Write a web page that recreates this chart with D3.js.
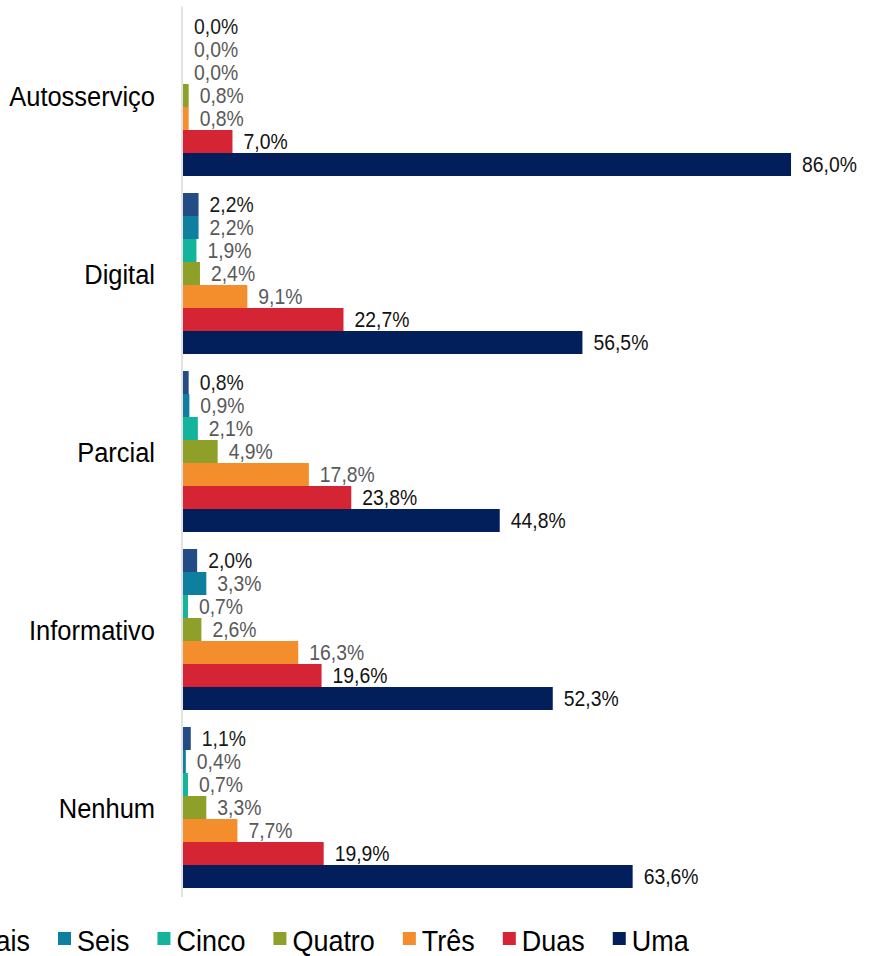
<!DOCTYPE html>
<html>
<head>
<meta charset="utf-8">
<script src="https://cdn.jsdelivr.net/npm/d3@7"></script>
<style>
  html, body { margin: 0; padding: 0; background: #fff; }
  svg { display: block; }
  text { font-family: "Liberation Sans", Arial, sans-serif; }
</style>
</head>
<body>
<svg id="chart" width="876" height="956"></svg>
<script>
// Categories (vertical groups)
const categories = ["Autosserviço", "Digital", "Parcial", "Informativo", "Nenhum"];

// Series, drawn top to bottom inside each group
const seriesNames = ["Sete ou mais", "Seis", "Cinco", "Quatro", "Três", "Duas", "Uma"];
const seriesColors = ["#234C86", "#0F7F9F", "#14B39B", "#8E9F2A", "#F48E2D", "#D52535", "#021F5B"];
const labelColors = ["#1a1a1a", "#595959", "#595959", "#595959", "#595959", "#111111", "#111111"];

// Percentages per series, one value per category
const seteOuMais = [0.0, 2.2, 0.8, 2.0, 1.1];
const seis       = [0.0, 2.2, 0.9, 3.3, 0.4];
const cinco      = [0.0, 1.9, 2.1, 0.7, 0.7];
const quatro     = [0.8, 2.4, 4.9, 2.6, 3.3];
const tres       = [0.8, 9.1, 17.8, 16.3, 7.7];
const duas       = [7.0, 22.7, 23.8, 19.6, 19.9];
const uma        = [86.0, 56.5, 44.8, 52.3, 63.6];

const seriesValues = [seteOuMais, seis, cinco, quatro, tres, duas, uma];

const fmt = v => v.toFixed(1).replace(".", ",") + "%";

const svg = d3.select("#chart");

const x = d3.scaleLinear().domain([0, 100]).range([183, 890]);

const y0 = d3.scaleBand()
  .domain(categories)
  .range([6.5, 896.5])
  .paddingInner(0.0955)
  .paddingOuter(0.0478);

const y1 = d3.scaleBand()
  .domain(seriesNames)
  .range([0, y0.bandwidth()]);

// condensed text helper: horizontal squeeze around the anchor point
function condensed(sel, sx) {
  return sel.attr("transform", function () {
    const tx = +this.getAttribute("data-x"), ty = +this.getAttribute("data-y");
    return `translate(${tx},${ty}) scale(${sx},1)`;
  });
}

// bars + value labels
const groups = svg.append("g").selectAll("g")
  .data(categories)
  .join("g")
  .attr("transform", d => `translate(0,${y0(d)})`);

groups.each(function (cat, ci) {
  const g = d3.select(this);
  const rows = seriesNames.map((s, si) => ({ s, si, v: seriesValues[si][ci] }));
  g.selectAll("rect")
    .data(rows)
    .join("rect")
    .attr("x", x(0))
    .attr("y", d => y1(d.s))
    .attr("width", d => x(d.v) - x(0))
    .attr("height", y1.bandwidth())
    .attr("fill", d => seriesColors[d.si]);

  g.selectAll("text")
    .data(rows)
    .join("text")
    .attr("data-x", d => x(d.v) + 11)
    .attr("data-y", d => y1(d.s) + y1.bandwidth() / 2)
    .attr("dy", "0.35em")
    .attr("font-size", 22)
    .attr("fill", d => labelColors[d.si])
    .text(d => fmt(d.v))
    .call(condensed, 0.88);
});

// category axis line
svg.append("line")
  .attr("x1", 182).attr("x2", 182)
  .attr("y1", 6.5).attr("y2", 897)
  .attr("stroke", "#d9d9d9")
  .attr("stroke-width", 1.5);

// category labels
svg.append("g").selectAll("text")
  .data(categories)
  .join("text")
  .attr("data-x", 155)
  .attr("data-y", d => y0(d) + y0.bandwidth() / 2 + 1)
  .attr("dy", "0.35em")
  .attr("text-anchor", "end")
  .attr("font-size", 28)
  .attr("fill", "#000")
  .text(d => d)
  .call(condensed, 0.91);

// legend
const legend = svg.append("g");
const sq = 13, textOff = 19, itemGap = 28, lx = 0.93, baseY = 951;
const items = legend.selectAll("g")
  .data(seriesNames)
  .join("g");
items.append("rect")
  .attr("width", sq).attr("height", sq)
  .attr("y", baseY - 19)
  .attr("fill", (d, i) => seriesColors[i]);
items.append("text")
  .attr("data-x", 0)
  .attr("data-y", baseY)
  .attr("font-size", 29)
  .attr("fill", "#000")
  .text(d => d)
  .call(condensed, lx);

const widths = [];
items.select("text").each(function () { widths.push(this.getComputedTextLength() * lx); });
let cursor = 58 - (textOff + widths[0] + itemGap);
items.each(function (d, i) {
  const it = d3.select(this);
  it.select("rect").attr("x", cursor);
  it.select("text").attr("transform", `translate(${cursor + textOff},${baseY}) scale(${lx},1)`);
  cursor += textOff + widths[i] + itemGap;
});
</script>
</body>
</html>
